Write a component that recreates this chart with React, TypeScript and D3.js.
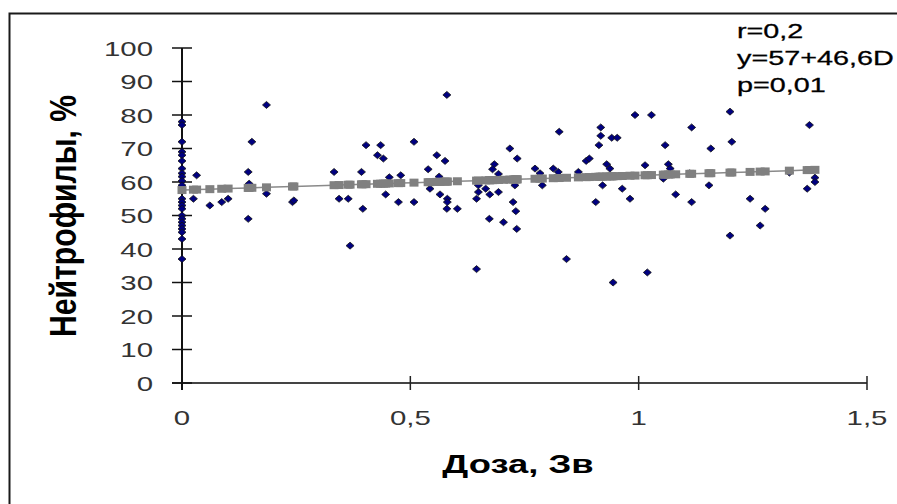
import React from "react";
import * as d3 from "d3";

// Dose (Sv) and neutrophils (%) per patient
const doseValues: number[] = [
  0, 0, 0, 0, 0, 0, 0, 0, 0, 0, 0, 0, 0, 0, 0, 0, 0, 0, 0, 0, 0, 0, 0,
  0.032, 0.025, 0.061, 0.087, 0.101, 0.185, 0.153, 0.145, 0.147, 0.185, 0.145, 0.242, 0.245,
  0.333, 0.344, 0.364, 0.368, 0.58, 0.403, 0.435, 0.508, 0.428, 0.441, 0.558, 0.576,
  0.718, 0.734, 0.684, 0.68, 0.393, 0.539, 0.454, 0.479, 0.563, 0.693, 0.396, 0.446,
  0.474, 0.508, 0.543, 0.565, 0.581, 0.581, 0.58, 0.603, 0.649, 0.649, 0.665, 0.674,
  0.693, 0.645, 0.673, 0.704, 0.725, 0.731, 0.733, 0.729, 0.645,
  0.992, 1.028, 0.826, 0.917, 0.917, 0.941, 0.953, 0.913, 1.058, 1.116, 0.885, 0.892,
  0.93, 0.937, 0.773, 0.784, 0.813, 0.824, 0.868, 1.014, 1.065, 1.069, 1.054, 0.789,
  0.921, 0.964, 0.981, 0.906, 1.081, 1.116, 0.842, 1.019, 0.944,
  1.2, 1.374, 1.204, 1.158, 1.112, 1.154, 1.386, 1.386, 1.369, 1.244, 1.277, 1.266, 1.2, 1.33,
];
const neutrophilValues: number[] = [
  78, 77, 72, 69, 68, 66.3, 64, 62.6, 61.6, 60.3, 59, 55, 54, 53, 52, 50, 49, 48, 47, 46, 45, 43, 37,
  62, 55, 53, 54, 55, 83, 72, 63, 59.5, 56.5, 49, 54, 54.5,
  63, 55, 55, 41, 86, 71, 71, 72, 68, 67, 68, 66.3,
  70, 67, 65.3, 63.8, 63, 63.8, 61.4, 62, 61.6, 62.4, 52, 56.3,
  54, 54, 58, 56.3, 55, 54, 52, 52, 59, 57, 58, 56.3,
  57, 55, 49, 48, 54, 51.3, 46, 59, 34,
  80, 80, 75, 76.3, 73.8, 73.2, 73.2, 71, 71, 76.3, 66.3, 67,
  65.3, 64, 64, 62.6, 64, 63, 63, 65, 65.3, 64, 61, 59,
  59, 58, 55, 54, 56.3, 54, 37, 33, 30,
  81, 77, 72, 70, 62.6, 59, 61.3, 60, 58, 55, 52, 47, 44, 62.8,
];

const xTickValues = [0, 0.5, 1, 1.5];
const xTickLabels = ["0", "0,5", "1", "1,5"];
const yTickValues = [0, 10, 20, 30, 40, 50, 60, 70, 80, 90, 100];

const trendIntercept = 57.6;
const trendSlope = 4.35;

const annotationLines = ["r=0,2", "y=57+46,6D", "p=0,01"];
const xTitle = "Доза, Зв";
const yTitle = "Нейтрофилы, %";

const W = 897;
const H = 504;
const SX = 1.4; // horizontal stretch of the text in the reference
const FONT = "Arial, 'Liberation Sans', sans-serif";

export default function App() {
  const x = d3.scaleLinear().domain([0, 1.5]).range([182, 867]);
  const y = d3.scaleLinear().domain([0, 100]).range([383, 48]);

  const points = doseValues.map((d, i) => ({ d, v: neutrophilValues[i] }));
  const uniqueX = Array.from(new Set(doseValues)).sort((a, b) => a - b);
  const trend = uniqueX.map((d) => ({ d, v: trendIntercept + trendSlope * d }));
  const line = d3
    .line<{ d: number; v: number }>()
    .x((p) => x(p.d))
    .y((p) => y(p.v));

  const diamond = "M0,-3.5 L4,0 L0,3.5 L-4,0 Z";

  return (
    <svg
      width={W}
      height={H}
      style={{ position: "absolute", left: 0, top: 0, display: "block", background: "#fff" }}
    >
      <rect x={0} y={0} width={W} height={H} fill="#fff" />
      {/* outer frame */}
      <rect x={9.5} y={13.5} width={1000} height={1000} fill="none" stroke="#1a1a1a" strokeWidth={2} />

      {/* x axis */}
      <line x1={172} x2={x(1.5)} y1={y(0)} y2={y(0)} stroke="#444" strokeWidth={2} />
      {xTickValues.map((t) => (
        <line key={"xt" + t} x1={x(t)} x2={x(t)} y1={y(0) - 7} y2={y(0) + 7} stroke="#222" strokeWidth={1.5} />
      ))}
      {xTickValues.map((t, i) => (
        <text
          key={"xl" + t}
          transform={`translate(${x(t)},${y(0) + 42}) scale(${SX},1)`}
          textAnchor="middle"
          fontFamily={FONT}
          fontSize={21}
          fill="#333"
        >
          {xTickLabels[i]}
        </text>
      ))}

      {/* y axis */}
      <line x1={x(0)} x2={x(0)} y1={y(100)} y2={y(0) + 7} stroke="#111" strokeWidth={2} />
      {yTickValues.map((t) => (
        <line key={"yt" + t} x1={x(0) - 10} x2={x(0) + 10} y1={y(t)} y2={y(t)} stroke="#111" strokeWidth={1.5} />
      ))}
      {yTickValues.map((t) => (
        <text
          key={"yl" + t}
          transform={`translate(153,${y(t)}) scale(${SX},1)`}
          textAnchor="end"
          dy="0.36em"
          fontFamily={FONT}
          fontSize={21}
          fill="#333"
        >
          {t}
        </text>
      ))}

      {/* data points */}
      {points.map((p, i) => (
        <path
          key={"p" + i}
          d={diamond}
          transform={`translate(${x(p.d)},${y(p.v)})`}
          fill="#000080"
          stroke="#111"
          strokeWidth={0.8}
        />
      ))}

      {/* trend */}
      <path d={line(trend) || ""} fill="none" stroke="#8a8a8a" strokeWidth={1.5} />
      {trend.map((p, i) => (
        <rect key={"t" + i} x={x(p.d) - 4.5} y={y(p.v) - 4} width={9} height={8} fill="#808080" />
      ))}

      {/* annotation */}
      {annotationLines.map((s, i) => (
        <text
          key={"a" + i}
          transform={`translate(737,${38 + i * 26.8}) scale(1.37,1)`}
          fontFamily={FONT}
          fontSize={21}
          stroke="#000"
          strokeWidth={0.3}
          fill="#000"
        >
          {s}
        </text>
      ))}

      {/* axis titles */}
      <text
        transform={`translate(518,473) scale(${SX},1)`}
        textAnchor="middle"
        fontFamily={FONT}
        fontWeight="bold"
        fontSize={26}
        fill="#000"
      >
        {xTitle}
      </text>
      <text
        transform={`translate(76,216) scale(${SX},1) rotate(-90)`}
        textAnchor="middle"
        fontFamily={FONT}
        fontWeight="bold"
        fontSize={26}
        textLength={242}
        lengthAdjust="spacingAndGlyphs"
        fill="#000"
      >
        {yTitle}
      </text>
    </svg>
  );
}
